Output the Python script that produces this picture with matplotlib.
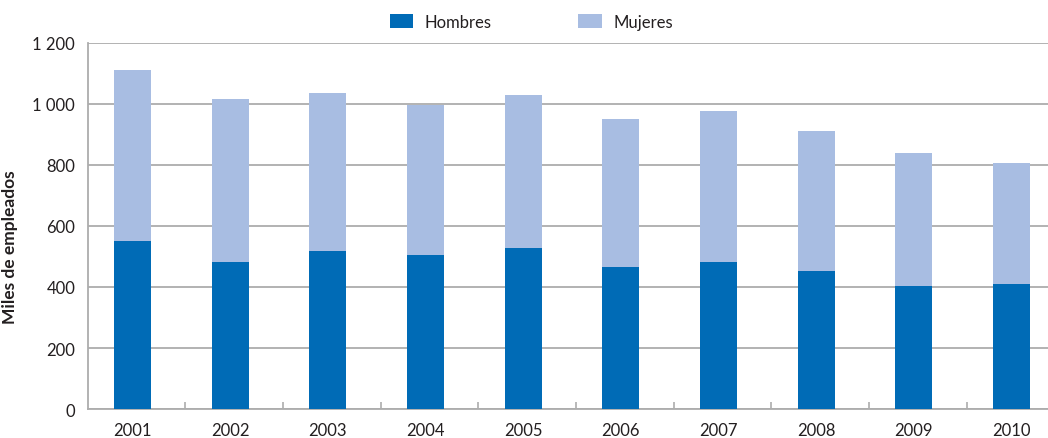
import numpy as np
import matplotlib.pyplot as plt
from matplotlib.ticker import FixedLocator, FuncFormatter

plt.rcParams['font.family'] = ['Lato', 'DejaVu Sans']

years = ['2001', '2002', '2003', '2004', '2005', '2006', '2007', '2008', '2009', '2010']
total = [1112, 1016, 1036, 998, 1030, 949, 978, 910, 839, 807]
hombres = [551, 482, 518, 505, 528, 467, 483, 451, 402, 409]
mujeres = [t - h for t, h in zip(total, hombres)]

c_hom = '#006BB6'
c_muj = '#A8BDE2'
c_grid = '#ADADAD'

fig = plt.figure(figsize=(10.48, 4.39), dpi=100)
ax = fig.add_axes([0.0837, 0.066, 0.9163, 0.834])

x = np.arange(len(years))
ax.bar(x, hombres, width=0.38, color=c_hom, label='Hombres', zorder=3)
ax.bar(x, mujeres, width=0.38, bottom=hombres, color=c_muj, label='Mujeres', zorder=3)

ax.set_ylim(0, 1200)
ax.set_xlim(-0.46, 9.374)
ax.set_yticks(range(0, 1201, 200))
ax.yaxis.set_major_formatter(FuncFormatter(lambda v, p: f'{int(v):,}'.replace(',', ' ')))
ax.set_xticks(x)
ax.set_xticklabels(years)
ax.xaxis.set_minor_locator(FixedLocator(x + 0.54))

ax.grid(axis='y', color=c_grid, linewidth=1.3, zorder=0)
ax.tick_params(axis='both', which='major', length=0, labelsize=12, colors='#231F20')
ax.tick_params(axis='y', pad=9)
ax.tick_params(axis='x', pad=9)
ax.tick_params(axis='x', which='minor', direction='in', length=5, color=c_grid, width=1.2)

for s in ['top', 'right']:
    ax.spines[s].set_visible(False)
for s in ['left', 'bottom']:
    ax.spines[s].set_color(c_grid)
    ax.spines[s].set_linewidth(1.3)

ax.set_ylabel('Miles de empleados', fontsize=12.5, fontweight='bold', color='#231F20')
ax.yaxis.set_label_coords(-0.073, 0.445)

fig.legend(loc='center', bbox_to_anchor=(0.507, 0.948), ncol=2, frameon=False,
           fontsize=12, handlelength=1.4, handleheight=0.85, columnspacing=5.2,
           handletextpad=0.7, labelcolor='#231F20')

fig.savefig('out.png', dpi=100)
